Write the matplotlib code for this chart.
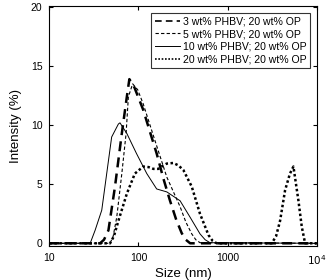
import matplotlib
matplotlib.use("Agg")
import matplotlib.pyplot as plt

plt.rcParams['font.family'] = ['Liberation Sans', 'DejaVu Sans']

labels = ["3 wt% PHBV; 20 wt% OP", "5 wt% PHBV; 20 wt% OP",
          "10 wt% PHBV; 20 wt% OP", "20 wt% PHBV; 20 wt% OP"]

x3 = [10, 37, 41, 46, 54.5, 65, 74, 79, 90, 113, 135, 160, 190, 226, 265, 306, 340, 380, 10000]
y3 = [0, 0, 0.3, 1.1, 4.8, 9.3, 12.4, 13.9, 13.2, 11.3, 9.4, 7.6, 5.5, 3.6, 2.0, 0.85, 0.3, 0, 0]

x5 = [10, 48, 52, 57, 65, 72.6, 77, 86, 98, 113, 153, 208, 293, 340, 396, 440, 490, 10000]
y5 = [0, 0, 0.6, 2.2, 5.9, 9.3, 12.4, 13.5, 13.0, 11.8, 8.7, 5.6, 3.1, 1.8, 0.8, 0.3, 0.05, 0]

x10 = [10, 28.7, 32.6, 38.7, 50, 59.5, 62, 74, 95, 124, 160, 208, 293, 380, 490, 560, 635, 10000]
y10 = [0, 0, 1.1, 2.8, 9.0, 10.1, 10.2, 9.3, 7.6, 5.9, 4.6, 4.35, 3.6, 2.2, 0.8, 0.3, 0.05, 0]

x20 = [10, 48, 53, 59.5, 74, 91, 113, 130, 147, 167, 190, 208, 246, 280, 319, 396, 490, 610, 680, 755,
       3130, 3500, 3880, 4420, 5010, 5480, 6240, 6800, 7410, 10000]
y20 = [0, 0, 0.6, 1.9, 4.2, 5.9, 6.5, 6.45, 6.3, 6.3, 6.6, 6.75, 6.8, 6.6, 6.2, 4.8, 2.5, 0.7, 0.2, 0,
       0, 0.6, 1.9, 4.5, 5.9, 6.5, 3.6, 1.4, 0, 0]

fig = plt.figure(figsize=(3.27, 2.80), dpi=100)
ax = fig.add_axes([0.151, 0.1214, 0.8175, 0.8554])

ax.plot(x3, y3, color='black', lw=1.8, ls=(0, (4, 2.5)), label=labels[0])
ax.plot(x5, y5, color='black', lw=0.8, ls=(0, (3, 2)), label=labels[1])
ax.plot(x10, y10, color='black', lw=0.7, ls='-', label=labels[2])
ax.plot(x20, y20, color='black', lw=1.8, ls=(0, (1, 1)), label=labels[3])

ax.set_xscale('log')
ax.set_xlim(10, 10000)
ax.set_ylim(-0.23, 20.05)
ax.set_xticks([10, 100, 1000, 10000])
ax.set_xticklabels(['10', '100', '1000', '$10^4$'])
ax.set_yticks([0, 5, 10, 15, 20])
ax.minorticks_off()
ax.tick_params(direction='in', top=True, right=True, length=3, width=0.8,
               labelsize=7.5, colors='black', pad=5)
for s in ax.spines.values():
    s.set_linewidth(0.8)

ax.set_xlabel('Size (nm)', fontsize=9.5, labelpad=1)
ax.set_ylabel('Intensity (%)', fontsize=9.5, labelpad=6)

leg = ax.legend(loc='upper right', fontsize=7.6, frameon=True, fancybox=False,
                edgecolor='black', handlelength=2.4, handletextpad=0.3,
                borderpad=0.35, labelspacing=0.25, borderaxespad=0.6)
leg.get_frame().set_linewidth(0.8)
for h in leg.get_lines():
    h.set_linewidth(min(h.get_linewidth(), 1.2))

fig.savefig('out.png', dpi=100)
